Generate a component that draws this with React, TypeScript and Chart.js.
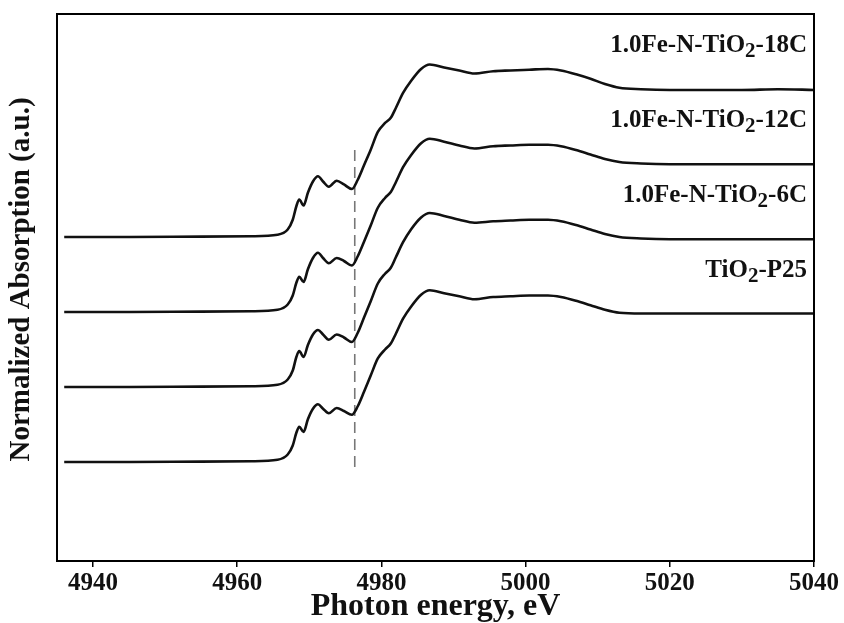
import React, { useEffect, useRef } from "react";
import { Chart, registerables } from "chart.js";
Chart.register(...registerables);

// Photon energy (eV) of the read-off points
const energies = [
  4936, 4945, 4955, 4962, 4965.6, 4967, 4967.7, 4968.2, 4968.6, 4969.2,
  4969.8, 4970.5, 4971.2, 4971.9, 4972.7, 4973.8, 4974.8, 4975.9, 4976.7, 4977.6,
  4978.5, 4979.5, 4980.5, 4981.3, 4982.0, 4983.0, 4984.1, 4985.5, 4986.7, 4988.7,
  4990.8, 4992.9, 4995.5, 4997.9, 5000.5, 5003.1, 5004.9, 5007, 5009, 5011,
  5013, 5016, 5020, 5025, 5030, 5035, 5040,
];

// Normalized absorption of each sample (relative to its own pre-edge baseline)
const absP25 = [
  0, 0, 0.005, 0.01, 0.03, 0.10, 0.22, 0.39, 0.47, 0.40,
  0.57, 0.71, 0.77, 0.71, 0.65, 0.72, 0.68, 0.63, 0.74, 0.94,
  1.15, 1.38, 1.50, 1.58, 1.71, 1.91, 2.07, 2.23, 2.29, 2.25,
  2.21, 2.17, 2.20, 2.21, 2.22, 2.22, 2.20, 2.15, 2.09, 2.03,
  1.99, 1.98, 1.98, 1.98, 1.98, 1.98, 1.98,
];
const abs6C = [
  0, 0, 0.005, 0.01, 0.03, 0.10, 0.22, 0.40, 0.48, 0.40,
  0.56, 0.70, 0.76, 0.70, 0.63, 0.70, 0.66, 0.60, 0.72, 0.93,
  1.14, 1.38, 1.51, 1.59, 1.73, 1.93, 2.10, 2.26, 2.32, 2.28,
  2.23, 2.19, 2.21, 2.22, 2.23, 2.23, 2.21, 2.16, 2.10, 2.04,
  2.00, 1.98, 1.97, 1.97, 1.97, 1.97, 1.97,
];
const abs12C = [
  0, 0, 0.005, 0.01, 0.03, 0.10, 0.22, 0.39, 0.47, 0.40,
  0.57, 0.72, 0.79, 0.72, 0.65, 0.72, 0.68, 0.62, 0.74, 0.94,
  1.15, 1.39, 1.52, 1.60, 1.73, 1.93, 2.09, 2.25, 2.31, 2.27,
  2.22, 2.18, 2.21, 2.22, 2.23, 2.23, 2.21, 2.16, 2.10, 2.04,
  2.00, 1.98, 1.97, 1.97, 1.97, 1.97, 1.97,
];
const abs18C = [
  0, 0, 0.005, 0.01, 0.03, 0.10, 0.23, 0.41, 0.50, 0.42,
  0.59, 0.74, 0.81, 0.74, 0.67, 0.75, 0.70, 0.64, 0.76, 0.96,
  1.16, 1.40, 1.52, 1.59, 1.72, 1.92, 2.08, 2.24, 2.30, 2.26,
  2.22, 2.18, 2.21, 2.22, 2.23, 2.24, 2.22, 2.17, 2.11, 2.04,
  1.99, 1.97, 1.96, 1.96, 1.96, 1.97, 1.96,
];

const seriesValues = [absP25, abs6C, abs12C, abs18C];
const seriesOffsets = [0, 1, 2, 3];
// label text split as [before subscript, subscript, after subscript]
const seriesLabels = [
  ["TiO", "2", "-P25"],
  ["1.0Fe-N-TiO", "2", "-6C"],
  ["1.0Fe-N-TiO", "2", "-12C"],
  ["1.0Fe-N-TiO", "2", "-18C"],
];
const xTicks = [4940, 4960, 4980, 5000, 5020, 5040];
const dashEnergy = 4976.3;
const dashSpan = [-0.11, 4.16];
const yTitle = "Normalized Absorption (a.u.)";

const FONT = "'Liberation Serif', 'Times New Roman', serif";

export default function App() {
  const ref = useRef<HTMLCanvasElement>(null);

  useEffect(() => {
    const canvas = ref.current!;
    const datasets: any[] = seriesValues.map((vals, i) => ({
      label: seriesLabels[i].join(""),
      data: energies.map((e, k) => ({ x: e, y: vals[k] + seriesOffsets[i] })),
      borderColor: "#111",
      borderWidth: 2.6,
      pointRadius: 0,
      cubicInterpolationMode: "monotone",
      fill: false,
    }));
    datasets.push({
      label: "edge",
      data: [
        { x: dashEnergy, y: dashSpan[1] },
        { x: dashEnergy, y: dashSpan[0] },
      ],
      borderColor: "#777",
      borderWidth: 1.6,
      borderDash: [11, 6],
      pointRadius: 0,
      fill: false,
    });

    const framePlugin = {
      id: "frameAndLabels",
      afterDatasetsDraw(chart: any) {
        const { ctx, chartArea, scales } = chart;
        const { left, top, right, bottom } = chartArea;
        ctx.save();
        ctx.strokeStyle = "#000";
        ctx.lineWidth = 2;
        ctx.strokeRect(left, top, right - left, bottom - top);

        ctx.fillStyle = "#111";
        ctx.textBaseline = "middle";
        const mainFont = `bold 25px ${FONT}`;
        const subFont = `bold 21px ${FONT}`;
        seriesLabels.forEach((parts, i) => {
          const y = scales.y.getPixelForValue(seriesOffsets[i] + 2.55);
          ctx.font = mainFont;
          const w0 = ctx.measureText(parts[0]).width;
          const w2 = ctx.measureText(parts[2]).width;
          ctx.font = subFont;
          const w1 = ctx.measureText(parts[1]).width;
          let x = right - 7 - (w0 + w1 + w2);
          ctx.textAlign = "left";
          ctx.font = mainFont;
          ctx.fillText(parts[0], x, y);
          x += w0;
          ctx.font = subFont;
          ctx.fillText(parts[1], x, y + 6);
          x += w1;
          ctx.font = mainFont;
          ctx.fillText(parts[2], x, y);
        });

        // y-axis title (rotated)
        ctx.save();
        ctx.translate(22, (top + bottom) / 2 - 8);
        ctx.rotate(-Math.PI / 2);
        ctx.textAlign = "center";
        ctx.textBaseline = "middle";
        ctx.font = `bold 29px ${FONT}`;
        ctx.fillText(yTitle, 0, 0);
        ctx.restore();

        ctx.restore();
      },
    };

    const chart = new Chart(canvas, {
      type: "line",
      data: { datasets },
      plugins: [framePlugin],
      options: {
        animation: false,
        responsive: false,
        devicePixelRatio: 1,
        layout: { padding: { top: 14, right: 30, left: 0, bottom: 0 } },
        plugins: { legend: { display: false }, tooltip: { enabled: false } },
        scales: {
          x: {
            type: "linear",
            min: 4935,
            max: 5040,
            afterBuildTicks: (scale: any) => {
              scale.ticks = xTicks.map((v) => ({ value: v }));
            },
            afterFit: (scale: any) => {
              scale.height = 62;
            },
            grid: {
              display: true,
              drawOnChartArea: false,
              drawTicks: true,
              tickLength: 6,
              color: "#000",
              lineWidth: 1.5,
            },
            border: { display: true, color: "#000", width: 2 },
            ticks: {
              color: "#111",
              font: { family: FONT, size: 25, weight: "bold" },
              padding: 2,
              maxRotation: 0,
              autoSkip: false,
              callback: (v: any) => String(v),
            },
            title: {
              display: true,
              text: "Photon energy, eV",
              color: "#111",
              font: { family: FONT, size: 32, weight: "bold" },
              padding: { top: 0, bottom: -3 },
            },
          },
          y: {
            type: "linear",
            min: -1.32,
            max: 5.973,
            afterFit: (scale: any) => {
              scale.width = 57;
            },
            grid: { display: false },
            border: { display: true, color: "#000", width: 2 },
            ticks: { display: false },
            title: { display: false, text: yTitle },
          },
        },
      },
    } as any);
    return () => chart.destroy();
  }, []);

  return (
    <div
      style={{
        position: "fixed",
        left: 0,
        top: 0,
        width: 844,
        height: 623,
        background: "#fff",
      }}
    >
      <canvas ref={ref} width={844} height={623} style={{ display: "block" }} />
    </div>
  );
}
